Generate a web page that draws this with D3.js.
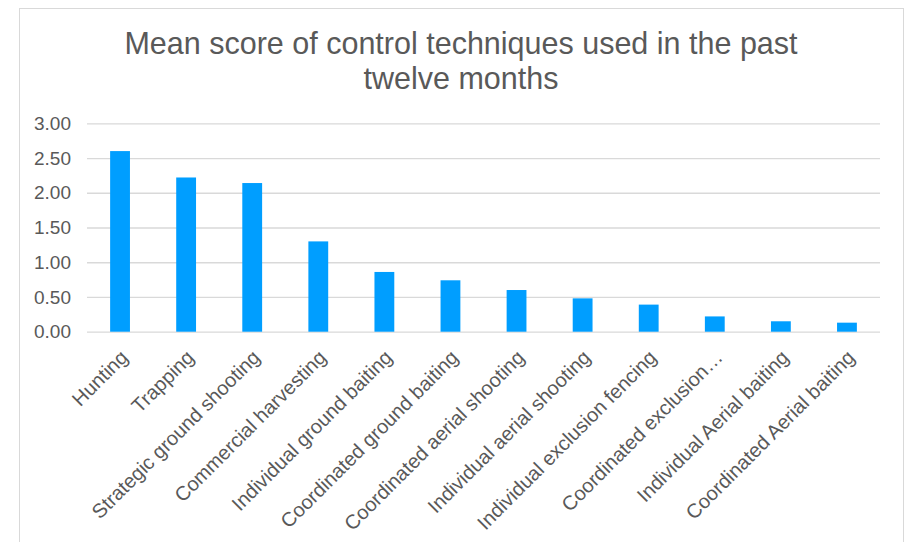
<!DOCTYPE html>
<html>
<head>
<meta charset="utf-8">
<script src="https://cdn.jsdelivr.net/npm/d3@7"></script>
<style>
  html, body { margin: 0; padding: 0; background: #fff; }
  svg { display: block; font-family: "Liberation Sans", Arial, sans-serif; }
</style>
</head>
<body>
<svg id="chart" width="909" height="542"></svg>
<script>
const categories = [
  "Hunting", "Trapping", "Strategic ground shooting", "Commercial harvesting",
  "Individual ground baiting", "Coordinated ground baiting", "Coordinated aerial shooting",
  "Individual aerial shooting", "Individual exclusion fencing", "Coordinated exclusion…",
  "Individual Aerial baiting", "Coordinated Aerial baiting"
];
const values = [2.60, 2.22, 2.14, 1.30, 0.86, 0.74, 0.60, 0.48, 0.39, 0.22, 0.15, 0.13];
const yTicks = [0, 0.5, 1, 1.5, 2, 2.5, 3];
const titleLines = ["Mean score of control techniques used in the past", "twelve months"];

const svg = d3.select("#chart");

// chart border
svg.append("rect")
  .attr("x", 19.5).attr("y", 8.5)
  .attr("width", 884).attr("height", 545)
  .attr("fill", "#fff").attr("stroke", "#d9d9d9").attr("stroke-width", 1);

const x = d3.scaleBand().domain(categories).range([87, 880]).paddingInner(0.7).paddingOuter(0.35);
const y = d3.scaleLinear().domain([0, 3]).range([331.7, 123.3]);

// gridlines
const yAxis = d3.axisLeft(y).tickValues(yTicks).tickFormat(d3.format(".2f"))
  .tickSize(-(880 - 87)).tickPadding(16);
const gy = svg.append("g").attr("transform", "translate(87,0)").call(yAxis);
gy.select(".domain").remove();
gy.selectAll(".tick line").attr("stroke", "#d9d9d9").attr("stroke-width", 1.3);
gy.selectAll(".tick text").attr("fill", "#595959").attr("font-size", 19)
  .attr("font-family", "Liberation Sans, Arial, sans-serif");

// bars
svg.append("g").selectAll("rect").data(values).join("rect")
  .attr("x", (d, i) => x(categories[i]))
  .attr("width", x.bandwidth())
  .attr("y", d => y(d))
  .attr("height", d => y(0) - y(d))
  .attr("fill", "#009EFF");

// x labels
const xAxis = d3.axisBottom(x).tickSize(0).tickPadding(0);
const gx = svg.append("g").attr("transform", "translate(0,331.7)").call(xAxis);
gx.select(".domain").remove();
gx.selectAll(".tick text")
  .attr("fill", "#595959").attr("font-size", 20)
  .attr("font-family", "Liberation Sans, Arial, sans-serif")
  .attr("text-anchor", "end")
  .attr("dy", null)
  .attr("y", 0)
  .attr("transform", "translate(9,27) rotate(-45)");

// title
svg.append("g").selectAll("text").data(titleLines).join("text")
  .attr("x", 461).attr("y", (d, i) => 53.5 + i * 35)
  .attr("text-anchor", "middle")
  .attr("fill", "#595959").attr("font-size", 30.5)
  .text(d => d);
</script>
</body>
</html>
